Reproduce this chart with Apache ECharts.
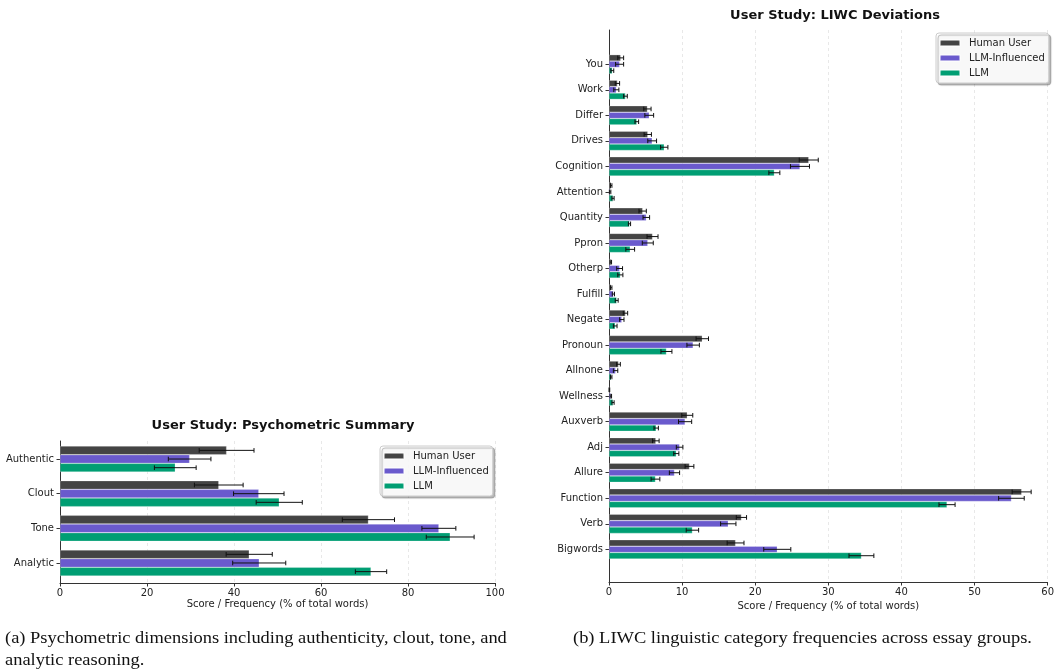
<!DOCTYPE html>
<html>
<head>
<meta charset="utf-8">
<script src="https://cdn.jsdelivr.net/npm/echarts@6/dist/echarts.min.js"></script>
<style>
  html, body { margin: 0; padding: 0; background: #fff; }
  #chart { width: 1057px; height: 670px; }
</style>
</head>
<body>
<div id="chart"></div>
<script>
// ---- Psychometric summary (panel a) ----
const psyCategories = ['Authentic', 'Clout', 'Tone', 'Analytic'];
const psyHuman    = [38.3, 36.5, 70.9, 43.5];
const psyHumanErr = [6.3, 5.6, 6.0, 5.3];
const psyInf      = [29.8, 45.7, 87.1, 45.8];
const psyInfErr   = [4.9, 5.8, 3.9, 6.1];
const psyLlm      = [26.5, 50.4, 89.7, 71.5];
const psyLlmErr   = [4.8, 5.3, 5.5, 3.6];

// ---- LIWC deviations (panel b) ----
const liwcCategories = ['You', 'Work', 'Differ', 'Drives', 'Cognition', 'Attention', 'Quantity',
  'Ppron', 'Otherp', 'Fulfill', 'Negate', 'Pronoun', 'Allnone', 'Wellness', 'Auxverb', 'Adj',
  'Allure', 'Function', 'Verb', 'Bigwords'];
const liwcHuman    = [1.6, 1.15, 5.25, 5.3, 27.3, 0.3, 4.6, 5.95, 0.25, 0.3, 2.25, 12.75, 1.3, 0.05, 10.7, 6.4, 11.0, 56.4, 18.1, 17.3];
const liwcHumanErr = [0.4, 0.3, 0.5, 0.5, 1.3, 0.1, 0.5, 0.75, 0.1, 0.1, 0.3, 0.85, 0.25, 0.05, 0.75, 0.45, 0.6, 1.3, 0.7, 1.15];
const liwcInf      = [1.45, 1.0, 5.5, 5.9, 26.1, 0.15, 5.1, 5.3, 1.45, 0.6, 1.75, 11.5, 0.9, 0.25, 10.4, 9.65, 8.95, 55.0, 16.3, 23.0];
const liwcInfErr   = [0.55, 0.35, 0.6, 0.6, 1.3, 0.1, 0.45, 0.75, 0.4, 0.15, 0.3, 0.85, 0.3, 0.1, 0.9, 0.45, 0.7, 1.75, 1.05, 1.85];
const liwcLlm      = [0.45, 2.25, 3.8, 7.55, 22.6, 0.55, 2.8, 2.9, 1.55, 1.05, 0.85, 7.85, 0.3, 0.55, 6.45, 9.2, 6.35, 46.2, 11.4, 34.5];
const liwcLlmErr   = [0.2, 0.25, 0.25, 0.5, 0.75, 0.15, 0.15, 0.6, 0.35, 0.2, 0.25, 0.75, 0.1, 0.15, 0.3, 0.35, 0.6, 1.1, 0.85, 1.7];

const groupNames = ['Human User', 'LLM-Influenced', 'LLM'];
const groupColors = ['#444444', '#6A5ACD', '#009E73'];
const axisTitle = 'Score / Frequency (% of total words)';

const FONT = 'DejaVu Sans';
const chart = echarts.init(document.getElementById('chart'), null, { renderer: 'canvas' });

// grid pairs: an "axis" grid holding the spines and value ticks, and a "band" grid
// holding the category bands where the bars are laid out
const grids = [
  { left: 60, top: 441, width: 435, height: 142 },
  { left: 60, top: 441.7, width: 435, height: 138.6 },
  { left: 609, top: 30, width: 439, height: 552 },
  { left: 609, top: 51.5, width: 439, height: 510.6 }
];

function valueAxis(gridIndex, max, interval, visible) {
  return {
    type: 'value', gridIndex, min: 0, max, interval,
    show: visible,
    axisLine: { show: true, lineStyle: { color: '#333', width: 1 } },
    axisTick: { show: true, length: 3.5, lineStyle: { color: '#333' } },
    axisLabel: { show: true, margin: 5, color: '#222', fontFamily: FONT, fontSize: 10 },
    splitLine: { show: true, lineStyle: { color: '#e3e3e3', type: [3, 3], width: 0.8 } },
    name: axisTitle, nameLocation: 'middle', nameGap: 16,
    nameTextStyle: { color: '#222', fontFamily: FONT, fontSize: 10 }
  };
}
function spineAxis(gridIndex) {
  return {
    type: 'value', gridIndex, min: 0, max: 1,
    axisLine: { show: true, onZero: false, lineStyle: { color: '#333', width: 1 } },
    axisTick: { show: false }, axisLabel: { show: false }, splitLine: { show: false }
  };
}
function categoryAxis(gridIndex, cats) {
  return {
    type: 'category', gridIndex, data: cats, inverse: true,
    axisLine: { show: false },
    axisTick: { show: true, alignWithLabel: true, length: 3.5, lineStyle: { color: '#333' } },
    axisLabel: { margin: 6, color: '#222', fontFamily: FONT, fontSize: 10, interval: 0 }
  };
}

function barSeries(name, color, values, axisIdx) {
  return {
    type: 'bar', name, data: values,
    xAxisIndex: axisIdx, yAxisIndex: axisIdx,
    barWidth: '25%', barGap: '0%',
    itemStyle: { color, borderColor: 'rgba(255,255,255,0.5)', borderWidth: 0.5 },
    emphasis: { disabled: true },
    z: 2
  };
}

// error bars drawn at the same offset as the matching bar inside each band
function errorSeries(name, values, errs, axisIdx, slot) {
  return {
    type: 'custom', name: name + ' error',
    xAxisIndex: axisIdx, yAxisIndex: axisIdx,
    data: values.map((v, i) => [v, errs[i], i]),
    encode: { x: 0, y: 2 },
    z: 5,
    renderItem(params, api) {
      const v = api.value(0), e = api.value(1), c = api.value(2);
      const band = api.size([0, 1])[1];
      const lo = api.coord([v - e, c]);
      const hi = api.coord([v + e, c]);
      const y = lo[1] + slot * band * 0.25;
      const cap = 2.3;
      const style = { stroke: '#111', lineWidth: 1 };
      return {
        type: 'group',
        children: [
          { type: 'line', shape: { x1: lo[0], y1: y, x2: hi[0], y2: y }, style },
          { type: 'line', shape: { x1: lo[0], y1: y - cap, x2: lo[0], y2: y + cap }, style },
          { type: 'line', shape: { x1: hi[0], y1: y - cap, x2: hi[0], y2: y + cap }, style }
        ]
      };
    }
  };
}

function legendAt(left, top) {
  return {
    data: groupNames, orient: 'vertical', left, top,
    itemWidth: 20, itemHeight: 6, itemGap: 5,
    padding: [5, 4, 5, 3],
    backgroundColor: 'rgba(255,255,255,0.9)',
    borderColor: '#cccccc', borderWidth: 1, borderRadius: 3,
    shadowColor: 'rgba(0,0,0,0.3)', shadowOffsetX: 2, shadowOffsetY: 2, shadowBlur: 1,
    selectedMode: false,
    textStyle: { color: '#222', fontFamily: FONT, fontSize: 10, padding: [0, 0, 0, 4] }
  };
}

const psySets = [[psyHuman, psyHumanErr], [psyInf, psyInfErr], [psyLlm, psyLlmErr]];
const liwcSets = [[liwcHuman, liwcHumanErr], [liwcInf, liwcInfErr], [liwcLlm, liwcLlmErr]];

const series = [];
groupNames.forEach((n, k) => series.push(barSeries(n, groupColors[k], psySets[k][0], 1)));
groupNames.forEach((n, k) => series.push(errorSeries(n, psySets[k][0], psySets[k][1], 1, k - 1)));
groupNames.forEach((n, k) => series.push(barSeries(n, groupColors[k], liwcSets[k][0], 3)));
groupNames.forEach((n, k) => series.push(errorSeries(n, liwcSets[k][0], liwcSets[k][1], 3, k - 1)));

const hidden = (idx, max) => Object.assign(valueAxis(idx, max, undefined, false), { show: false });

const captionFont = '17px "Liberation Serif"';

chart.setOption({
  animation: false,
  color: groupColors,
  title: [
    { text: 'User Study: Psychometric Summary', left: 278, top: 414, textAlign: 'center',
      textStyle: { fontFamily: FONT, fontWeight: 'bold', fontSize: 13, color: '#111' } },
    { text: 'User Study: LIWC Deviations', left: 830, top: 4, textAlign: 'center',
      textStyle: { fontFamily: FONT, fontWeight: 'bold', fontSize: 13, color: '#111' } }
  ],
  legend: [legendAt(380, 446), legendAt(936, 33)],
  grid: grids,
  xAxis: [
    valueAxis(0, 100, 20, true),
    hidden(1, 100),
    valueAxis(2, 60, 10, true),
    hidden(3, 60)
  ],
  yAxis: [
    spineAxis(0),
    categoryAxis(1, psyCategories),
    spineAxis(2),
    categoryAxis(3, liwcCategories)
  ],
  series,
  graphic: [
    { type: 'text', x: 5, y: 628, scaleX: 1.085,
      style: { text: '(a) Psychometric dimensions including authenticity, clout, tone, and\nanalytic reasoning.',
        font: captionFont, fill: '#111', lineHeight: 22, verticalAlign: 'top' } },
    { type: 'text', x: 573, y: 628, scaleX: 1.085,
      style: { text: '(b) LIWC linguistic category frequencies across essay groups.',
        font: captionFont, fill: '#111', lineHeight: 22, verticalAlign: 'top' } }
  ]
});
</script>
</body>
</html>
